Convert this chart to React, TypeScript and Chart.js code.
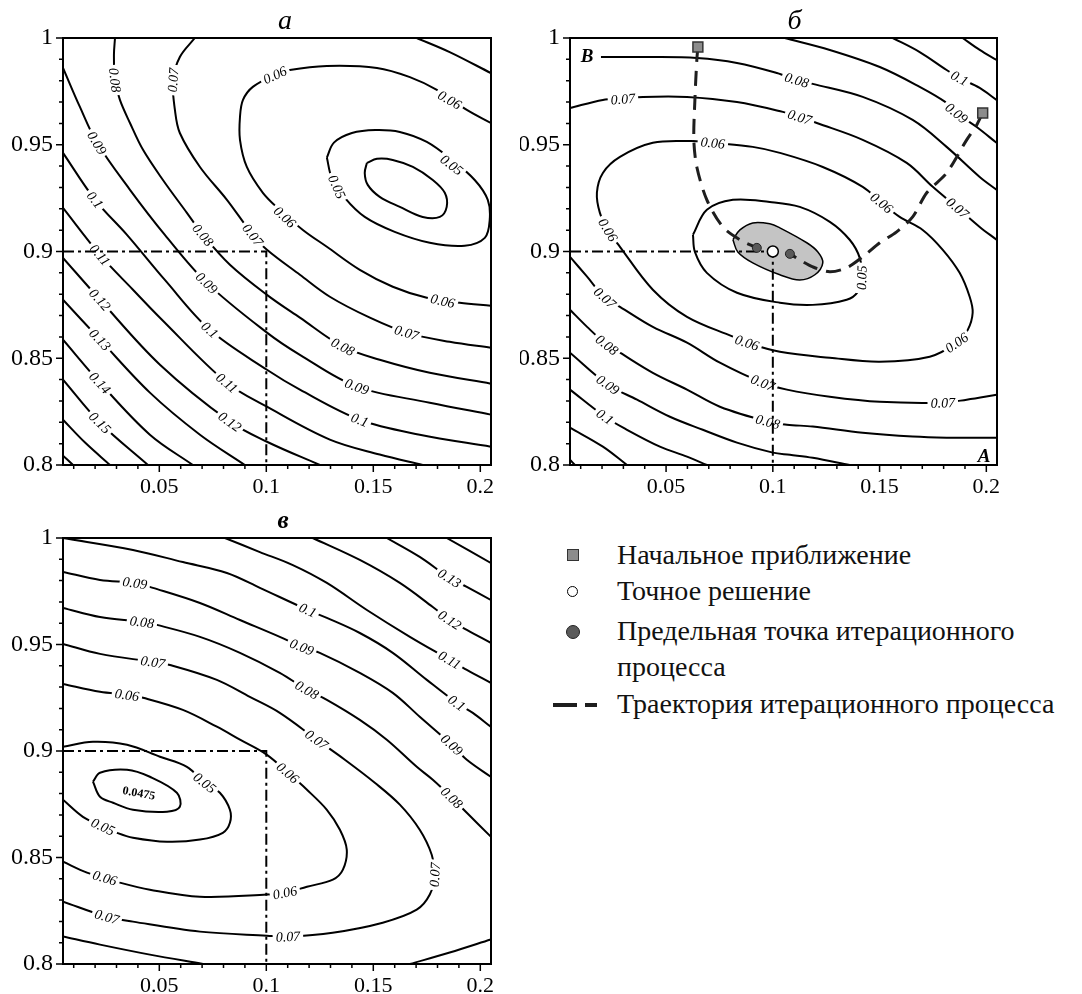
import React, { useEffect, useRef } from "react";
import { Chart, registerables } from "chart.js";

Chart.register(...registerables);

type P = [number, number];
type Lbl = [string, number, number, number?];

const SERIF = '"Liberation Serif", "Times New Roman", serif';

// ---------- axes ----------
const X_RANGE: P = [0.005, 0.205];
const Y_RANGE: P = [0.8, 1];
const xMajor = [0.05, 0.1, 0.15, 0.2];
const xTickLabels = ["0.05", "0.1", "0.15", "0.2"];
const yMajor = [0.8, 0.85, 0.9, 0.95, 1];
const yTickLabels = ["0.8", "0.85", "0.9", "0.95", "1"];
const xMinor = [0.01, 0.02, 0.03, 0.04, 0.06, 0.07, 0.08, 0.09, 0.11, 0.12, 0.13, 0.14, 0.16, 0.17, 0.18, 0.19];
const yMinor = [0.81, 0.82, 0.83, 0.84, 0.86, 0.87, 0.88, 0.89, 0.91, 0.92, 0.93, 0.94, 0.96, 0.97, 0.98, 0.99];
const refLine: P[] = [[0.005, 0.9], [0.1, 0.9], [0.1, 0.8]];

// ---------- panel а ----------
const A_c045: P[] = [[0.147, 0.9415], [0.1517, 0.9434], [0.1591, 0.9429], [0.1685, 0.9396], [0.1778, 0.9335], [0.1834, 0.9275], [0.1843, 0.9209], [0.1811, 0.9162], [0.1731, 0.9162], [0.1624, 0.9209], [0.153, 0.9256], [0.1474, 0.9312], [0.146, 0.9368], [0.147, 0.9415]];
const A_c05: P[] = [[0.1283, 0.944], [0.1316, 0.951], [0.14, 0.9555], [0.151, 0.9569], [0.1624, 0.956], [0.175, 0.9513], [0.1867, 0.9429], [0.1974, 0.9335], [0.2035, 0.9242], [0.2044, 0.9148], [0.2021, 0.9064], [0.1927, 0.9027], [0.1764, 0.9041], [0.16, 0.9092], [0.146, 0.9162], [0.1367, 0.9251], [0.1306, 0.9345], [0.1283, 0.944]];
const A_c06: P[] = [[0.2049, 0.9602], [0.1937, 0.9663], [0.1797, 0.9757], [0.1671, 0.9817], [0.1517, 0.986], [0.1283, 0.9869], [0.111, 0.985], [0.104, 0.9827], [0.0937, 0.9771], [0.0891, 0.971], [0.0877, 0.963], [0.0877, 0.9523], [0.0909, 0.9396], [0.0984, 0.9275], [0.1063, 0.9195], [0.1171, 0.9101], [0.1283, 0.9022], [0.1437, 0.8914], [0.1591, 0.8835], [0.175, 0.8783], [0.1904, 0.876], [0.2049, 0.8746]];
const A_c07a: P[] = [[0.1703, 1], [0.1857, 0.9934], [0.2049, 0.9836]];
const A_c07: P[] = [[0.0666, 1], [0.0596, 0.9911], [0.0564, 0.9803], [0.0573, 0.9663], [0.0596, 0.9555], [0.069, 0.9396], [0.0816, 0.9242], [0.0937, 0.9078], [0.1003, 0.9008], [0.1157, 0.8891], [0.1297, 0.8788], [0.1484, 0.869], [0.1656, 0.862], [0.1857, 0.8577], [0.2049, 0.8549]];
const A_c08: P[] = [[0.0293, 1], [0.0288, 0.992], [0.0293, 0.9803], [0.0316, 0.971], [0.0363, 0.9602], [0.0424, 0.9476], [0.0517, 0.9335], [0.0629, 0.9181], [0.0704, 0.9078], [0.083, 0.8938], [0.1003, 0.8797], [0.1157, 0.869], [0.1358, 0.8554], [0.153, 0.8493], [0.1764, 0.8432], [0.2049, 0.8381]];
const A_c09: P[] = [[0.005, 0.986], [0.0129, 0.9677], [0.0209, 0.9509], [0.0363, 0.9289], [0.0526, 0.9078], [0.0722, 0.8853], [0.1003, 0.862], [0.1157, 0.8516], [0.1423, 0.8367], [0.1764, 0.8292], [0.2049, 0.8236]];
const A_c10: P[] = [[0.005, 0.9462], [0.02, 0.9242], [0.0349, 0.9078], [0.0526, 0.8867], [0.0736, 0.8633], [0.1003, 0.8446], [0.1157, 0.8353], [0.1437, 0.8212], [0.1717, 0.8142], [0.2049, 0.8086]];
const A_c11: P[] = [[0.005, 0.9204], [0.0223, 0.8984], [0.0377, 0.8821], [0.0503, 0.869], [0.0816, 0.8385], [0.1003, 0.8273], [0.1297, 0.8119], [0.153, 0.8049], [0.1731, 0.8]];
const A_c12: P[] = [[0.005, 0.897], [0.0223, 0.8774], [0.0503, 0.847], [0.083, 0.8203], [0.1003, 0.8109], [0.125, 0.8]];
const A_c13: P[] = [[0.005, 0.8774], [0.0223, 0.8587], [0.0456, 0.8339], [0.069, 0.8142], [0.09, 0.8]];
const A_c14: P[] = [[0.005, 0.8587], [0.0223, 0.8385], [0.0456, 0.8142], [0.0657, 0.8]];
const A_c15: P[] = [[0.005, 0.84], [0.0223, 0.8198], [0.0447, 0.8]];
const A_c16: P[] = [[0.005, 0.8212], [0.0153, 0.8105], [0.027, 0.8]];
const A_c17: P[] = [[0.005, 0.8044], [0.0097, 0.8]];
const A_labels: Lbl[] = [
  ["0.08", 0.0293, 0.9803], ["0.07", 0.0564, 0.9803, -1.5], ["0.06", 0.104, 0.9827], ["0.06", 0.1857, 0.971],
  ["0.05", 0.133, 0.9303], ["0.05", 0.1867, 0.9406], ["0.09", 0.0209, 0.9509], ["0.1", 0.02, 0.9242],
  ["0.11", 0.0223, 0.8984], ["0.12", 0.0223, 0.8774], ["0.13", 0.0223, 0.8587], ["0.14", 0.0223, 0.8385],
  ["0.15", 0.0223, 0.8198], ["0.08", 0.0704, 0.9078], ["0.07", 0.0937, 0.9078], ["0.06", 0.1087, 0.9162],
  ["0.09", 0.0722, 0.8853], ["0.1", 0.0736, 0.8633], ["0.11", 0.0816, 0.8385], ["0.12", 0.083, 0.8203],
  ["0.06", 0.1825, 0.8769], ["0.07", 0.1656, 0.862], ["0.08", 0.1358, 0.8554], ["0.09", 0.1423, 0.8367],
  ["0.1", 0.1437, 0.8212],
];

// ---------- panel б ----------
const B_gray: P[] = [[0.0813, 0.9055], [0.0846, 0.9101], [0.0906, 0.9134], [0.0986, 0.913], [0.1033, 0.9111], [0.1159, 0.9041], [0.1211, 0.8998], [0.1234, 0.8947], [0.1197, 0.8891], [0.1126, 0.8867], [0.1033, 0.8891], [0.0906, 0.8947], [0.0836, 0.8998], [0.0813, 0.9055]];
const B_c05: P[] = [[0.0626, 0.9078], [0.0691, 0.9195], [0.0813, 0.9242], [0.0986, 0.9232], [0.1126, 0.9209], [0.1267, 0.9139], [0.136, 0.9055], [0.1407, 0.897], [0.1416, 0.8877], [0.1398, 0.8811], [0.1346, 0.8774], [0.1187, 0.875], [0.1033, 0.876], [0.0832, 0.8807], [0.0691, 0.89], [0.0635, 0.8998], [0.0626, 0.9078]];
const B_c06: P[] = [[0.0626, 0.9518], [0.0719, 0.9509], [0.0906, 0.949], [0.1033, 0.9462], [0.1234, 0.9396], [0.1421, 0.9303], [0.151, 0.9228], [0.1594, 0.9162], [0.1702, 0.9101], [0.1796, 0.9008], [0.1875, 0.89], [0.1922, 0.8788], [0.1936, 0.8713], [0.1913, 0.8633], [0.1861, 0.8573], [0.1735, 0.8507], [0.1501, 0.8484], [0.1267, 0.8502], [0.1033, 0.853], [0.0879, 0.8573], [0.0813, 0.8601], [0.0598, 0.8694], [0.0438, 0.8821], [0.0284, 0.9022], [0.0228, 0.9101], [0.019, 0.9181], [0.0176, 0.9275], [0.0204, 0.9368], [0.0284, 0.9443], [0.0438, 0.9509], [0.0626, 0.9518]];
const B_c07u: P[] = [[0.005, 0.9672], [0.0204, 0.971], [0.0298, 0.9715], [0.0392, 0.9724], [0.0598, 0.9724], [0.0832, 0.97], [0.1047, 0.9654], [0.1126, 0.963], [0.1206, 0.9602], [0.1421, 0.9523], [0.1627, 0.9415], [0.1749, 0.9303], [0.1866, 0.9204], [0.1969, 0.9115], [0.2048, 0.9055]];
const B_c07l: P[] = [[0.005, 0.8975], [0.013, 0.8882], [0.0214, 0.8783], [0.0284, 0.8741], [0.0438, 0.8647], [0.0598, 0.8573], [0.0752, 0.8479], [0.0953, 0.8385], [0.1066, 0.8353], [0.1267, 0.832], [0.1501, 0.8296], [0.1796, 0.8292], [0.1908, 0.8306], [0.2048, 0.8329]];
const B_c08u: P[] = [[0.0195, 0.9911], [0.0424, 0.9911], [0.0644, 0.9906], [0.0832, 0.9883], [0.1019, 0.9836], [0.1112, 0.9803], [0.1187, 0.9785], [0.1421, 0.9724], [0.1655, 0.9616], [0.1814, 0.949], [0.1969, 0.9349], [0.2048, 0.9289]];
const B_c08l: P[] = [[0.005, 0.8727], [0.013, 0.8647], [0.0223, 0.8563], [0.0284, 0.8526], [0.0438, 0.8432], [0.0598, 0.8353], [0.0752, 0.8273], [0.0977, 0.8203], [0.1066, 0.8189], [0.1187, 0.818], [0.1421, 0.8151], [0.1655, 0.8133], [0.1814, 0.8128], [0.2048, 0.8128]];
const B_c09u: P[] = [[0.1056, 1], [0.1267, 0.9944], [0.1501, 0.9864], [0.1688, 0.9771], [0.1814, 0.9696], [0.1861, 0.9649], [0.1955, 0.9583], [0.2048, 0.9509]];
const B_c09l: P[] = [[0.005, 0.8526], [0.0228, 0.8376], [0.0364, 0.8306], [0.0518, 0.8226], [0.0672, 0.8165], [0.0832, 0.8105], [0.1, 0.8058], [0.108, 0.8048], [0.1187, 0.8034], [0.136, 0.8]];
const B_c10u: P[] = [[0.1562, 1], [0.1688, 0.9934], [0.1814, 0.985], [0.1875, 0.9813], [0.1969, 0.9766], [0.2048, 0.971]];
const B_c10l: P[] = [[0.005, 0.8353], [0.0214, 0.8226], [0.0317, 0.8165], [0.0471, 0.8086], [0.0598, 0.8039], [0.0691, 0.8]];
const B_c11u: P[] = [[0.1889, 1], [0.1969, 0.9944], [0.2048, 0.9897]];
const B_c11l: P[] = [[0.005, 0.8175], [0.0204, 0.8086], [0.0317, 0.8]];
const B_c12l: P[] = [[0.005, 0.8025], [0.0073, 0.8]];
const B_labels: Lbl[] = [
  ["0.08", 0.1112, 0.9803], ["0.07", 0.0298, 0.9715], ["0.07", 0.1126, 0.963], ["0.06", 0.0719, 0.9509],
  ["0.06", 0.0228, 0.9101], ["0.1", 0.1875, 0.9813], ["0.09", 0.1861, 0.9649], ["0.07", 0.1866, 0.9204],
  ["0.06", 0.151, 0.9228], ["0.05", 0.1416, 0.8877, -1.55], ["0.06", 0.1861, 0.8573], ["0.07", 0.1796, 0.8292],
  ["0.07", 0.0214, 0.8783], ["0.06", 0.0879, 0.8573], ["0.07", 0.0953, 0.8385], ["0.08", 0.0223, 0.8563],
  ["0.08", 0.0977, 0.8203], ["0.09", 0.0228, 0.8376], ["0.1", 0.0214, 0.8226],
];
const B_trajLeft: P[] = [[0.0649, 0.9958], [0.0644, 0.9897], [0.0635, 0.971], [0.063, 0.9523], [0.0644, 0.9396], [0.0691, 0.9242], [0.0766, 0.9115], [0.0846, 0.9055], [0.0925, 0.9017]];
const B_trajRight: P[] = [[0.1983, 0.9649], [0.1955, 0.9593], [0.1908, 0.9523], [0.1814, 0.9368], [0.1721, 0.9275], [0.1655, 0.9162], [0.158, 0.9092], [0.1501, 0.9041], [0.1421, 0.8975], [0.1346, 0.8924], [0.1267, 0.8905], [0.1187, 0.8928], [0.1126, 0.8961], [0.108, 0.8989]];
const B_start: P[] = [[0.0649, 0.9958], [0.1983, 0.9649]];
const B_exact: P[] = [[0.1, 0.9]];
const B_limit: P[] = [[0.0925, 0.9017], [0.108, 0.8989]];

// ---------- panel в ----------
const C_c0475: P[] = [[0.019, 0.8856], [0.0223, 0.8898], [0.0349, 0.8912], [0.0456, 0.8879], [0.0582, 0.8804], [0.0596, 0.8738], [0.0536, 0.8715], [0.0377, 0.8724], [0.0284, 0.8757], [0.0223, 0.8785], [0.019, 0.8856]];
const C_c05: P[] = [[0.005, 0.902], [0.019, 0.9043], [0.0349, 0.9029], [0.0503, 0.8973], [0.0629, 0.8926], [0.0713, 0.8851], [0.0783, 0.8804], [0.083, 0.8724], [0.083, 0.8663], [0.0797, 0.8616], [0.069, 0.8584], [0.0536, 0.8574], [0.0377, 0.8593], [0.0302, 0.8616], [0.0237, 0.8645], [0.0143, 0.8691], [0.005, 0.8771]];
const C_c06: P[] = [[0.005, 0.9315], [0.0223, 0.9278], [0.0349, 0.9264], [0.0424, 0.925], [0.061, 0.9193], [0.0769, 0.9114], [0.0877, 0.9053], [0.1003, 0.8982], [0.1101, 0.8898], [0.119, 0.8818], [0.1283, 0.8724], [0.1344, 0.863], [0.1376, 0.8537], [0.1358, 0.8443], [0.1311, 0.8396], [0.119, 0.8363], [0.1087, 0.8335], [0.1003, 0.8326], [0.069, 0.8316], [0.0456, 0.8349], [0.0316, 0.8382], [0.0246, 0.8405], [0.0162, 0.8429], [0.005, 0.848]];
const C_c07: P[] = [[0.005, 0.9503], [0.0223, 0.9456], [0.047, 0.9418], [0.055, 0.9404], [0.0769, 0.9334], [0.0923, 0.9254], [0.1063, 0.9179], [0.1236, 0.9053], [0.1367, 0.8959], [0.1507, 0.8851], [0.1624, 0.8748], [0.1717, 0.863], [0.1773, 0.8513], [0.1787, 0.8419], [0.1764, 0.8326], [0.1703, 0.8255], [0.1544, 0.8194], [0.131, 0.8147], [0.1101, 0.8129], [0.1003, 0.8133], [0.069, 0.8152], [0.0377, 0.8199], [0.0255, 0.8222], [0.005, 0.8293]];
const C_c08: P[] = [[0.005, 0.9672], [0.0223, 0.9629], [0.0419, 0.9606], [0.0489, 0.9592], [0.069, 0.9536], [0.0877, 0.9461], [0.1063, 0.9367], [0.119, 0.9287], [0.1283, 0.924], [0.1437, 0.9146], [0.1563, 0.9053], [0.1703, 0.8926], [0.1778, 0.8865], [0.1867, 0.8781], [0.1937, 0.871], [0.2049, 0.8598]];
const C_c08b: P[] = [[0.005, 0.8129], [0.0223, 0.8091], [0.0456, 0.8044], [0.0704, 0.8]];
const C_c08c: P[] = [[0.1671, 0.8], [0.1857, 0.8054], [0.2049, 0.8115]];
const C_c09: P[] = [[0.005, 0.9841], [0.0223, 0.9803], [0.0386, 0.9789], [0.047, 0.9766], [0.069, 0.9695], [0.0877, 0.9615], [0.1063, 0.9536], [0.1166, 0.9489], [0.125, 0.9461], [0.1437, 0.9367], [0.1591, 0.9273], [0.1717, 0.9161], [0.1867, 0.9029], [0.1937, 0.8959], [0.2049, 0.8879]];
const C_c10: P[] = [[0.005, 1], [0.0377, 0.9944], [0.061, 0.9887], [0.0816, 0.9836], [0.097, 0.9766], [0.1194, 0.9662], [0.1283, 0.9625], [0.1437, 0.9554], [0.1591, 0.9461], [0.175, 0.9334], [0.189, 0.9226], [0.1965, 0.9179], [0.2049, 0.9114]];
const C_c11: P[] = [[0.0807, 1], [0.097, 0.9934], [0.1124, 0.9873], [0.1283, 0.9789], [0.147, 0.9662], [0.1671, 0.9536], [0.1857, 0.9428], [0.1937, 0.9381], [0.2049, 0.932]];
const C_c12: P[] = [[0.1217, 1], [0.1437, 0.9897], [0.1624, 0.9789], [0.1778, 0.9676], [0.1857, 0.9615], [0.1937, 0.9569], [0.2049, 0.9508]];
const C_c13: P[] = [[0.1563, 1], [0.1717, 0.9911], [0.1857, 0.9812], [0.1937, 0.977], [0.2049, 0.9709]];
const C_c14: P[] = [[0.1843, 1], [0.2049, 0.9883]];
const C_labels: Lbl[] = [
  ["0.09", 0.0386, 0.9789], ["0.08", 0.0419, 0.9606], ["0.07", 0.047, 0.9418], ["0.06", 0.0349, 0.9264],
  ["0.1", 0.1194, 0.9662], ["0.09", 0.1166, 0.9489], ["0.08", 0.119, 0.9287], ["0.07", 0.1236, 0.9053],
  ["0.13", 0.1857, 0.9812], ["0.12", 0.1857, 0.9615], ["0.11", 0.1857, 0.9428], ["0.1", 0.189, 0.9226],
  ["0.09", 0.1867, 0.9029], ["0.08", 0.1867, 0.8781], ["0.07", 0.1787, 0.8419], ["0.06", 0.1101, 0.8898],
  ["0.06", 0.1087, 0.8335], ["0.06", 0.0246, 0.8405], ["0.05", 0.0713, 0.8851], ["0.05", 0.0237, 0.8645],
  ["0.07", 0.0255, 0.8222], ["0.07", 0.1101, 0.8129], ["0.0475", 0.0405, 0.8804, 0.18],
];
const SPECIAL_LABEL = "0.0475";

// ---------- legend ----------
const legendItems = ["Начальное приближение", "Точное решение", "Предельная точка итерационного", "процесса", "Траектория итерационного процесса"];

interface PanelSpec {
  title: string;
  titleFont: string;
  titleDx: number;
  titleDy: number;
  contours: P[][];
  filled?: P[][];
  labels: Lbl[];
  trajectories?: P[][];
  starts?: P[];
  exact?: P[];
  limits?: P[];
  corners?: [string, "tl" | "br"][];
  padTop: number;
  padRight: number;
  axisW: number;
  axisH: number;
}

const xy = (pts: P[]) => pts.map(([x, y]) => ({ x, y }));

function drawLabels(chart: any, s: PanelSpec, contourIdx: number[]) {
  const ctx: CanvasRenderingContext2D = chart.ctx;
  const xs = chart.scales.x;
  const ys = chart.scales.y;
  const metas = contourIdx.map((i) => chart.getDatasetMeta(i).data as any[]);
  ctx.save();
  for (const [t, lx, ly, fixed] of s.labels) {
    const px = xs.getPixelForValue(lx);
    const py = ys.getPixelForValue(ly);
    let a = 0;
    if (fixed !== undefined) {
      a = fixed;
    } else {
      let best = Infinity;
      let bm: any[] = [];
      let bj = 0;
      for (const d of metas) {
        for (let j = 0; j < d.length; j++) {
          const dx = d[j].x - px;
          const dy = d[j].y - py;
          const q = dx * dx + dy * dy;
          if (q < best) { best = q; bm = d; bj = j; }
        }
      }
      const p0 = bm[Math.max(bj - 1, 0)];
      const p1 = bm[Math.min(bj + 1, bm.length - 1)];
      a = Math.atan2(p1.y - p0.y, p1.x - p0.x);
      if (a > Math.PI / 2) a -= Math.PI;
      if (a <= -Math.PI / 2) a += Math.PI;
    }
    ctx.save();
    ctx.translate(px, py);
    ctx.rotate(a);
    const special = t === SPECIAL_LABEL;
    ctx.font = special ? `bold 12px ${SERIF}` : `italic 14px ${SERIF}`;
    const w = ctx.measureText(t).width;
    if (!special) {
      ctx.fillStyle = "#fff";
      ctx.fillRect(-w / 2 - 3, -6, w + 6, 12);
    }
    ctx.fillStyle = "#000";
    ctx.textAlign = "center";
    ctx.textBaseline = "middle";
    ctx.fillText(t, 0, 1);
    ctx.restore();
  }
  const ca = chart.chartArea;
  for (const [t, pos] of s.corners ?? []) {
    ctx.font = `bold italic 19px ${SERIF}`;
    ctx.textAlign = "center";
    ctx.textBaseline = "alphabetic";
    const cx = pos === "tl" ? ca.left + 17 : ca.right - 13;
    const cy = pos === "tl" ? ca.top + 24 : ca.bottom - 3;
    const w = ctx.measureText(t).width;
    ctx.fillStyle = "#fff";
    ctx.fillRect(cx - w / 2 - 3, cy - 15, w + 6, 17);
    ctx.fillStyle = "#000";
    ctx.fillText(t, cx, cy);
  }
  ctx.restore();
}

function drawFrame(chart: any, s: PanelSpec) {
  const ctx: CanvasRenderingContext2D = chart.ctx;
  const { left, right, top, bottom } = chart.chartArea;
  const xs = chart.scales.x;
  const ys = chart.scales.y;
  ctx.save();
  ctx.strokeStyle = "#000";
  ctx.lineWidth = 2;
  ctx.strokeRect(left, top, right - left, bottom - top);
  ctx.lineWidth = 1.5;
  ctx.beginPath();
  for (const v of xMajor) { const p = xs.getPixelForValue(v); ctx.moveTo(p, bottom); ctx.lineTo(p, bottom + 7); }
  for (const v of xMinor) { const p = xs.getPixelForValue(v); ctx.moveTo(p, bottom); ctx.lineTo(p, bottom + 4); }
  for (const v of yMajor) { const p = ys.getPixelForValue(v); ctx.moveTo(left, p); ctx.lineTo(left - 7, p); }
  for (const v of yMinor) { const p = ys.getPixelForValue(v); ctx.moveTo(left, p); ctx.lineTo(left - 4, p); }
  ctx.stroke();
  ctx.fillStyle = "#000";
  ctx.font = s.titleFont;
  ctx.textAlign = "center";
  ctx.textBaseline = "alphabetic";
  ctx.fillText(s.title, (left + right) / 2 + s.titleDx, top - s.titleDy);
  ctx.restore();
}

function buildChart(canvas: HTMLCanvasElement, s: PanelSpec) {
  const datasets: any[] = [];
  const contourIdx: number[] = [];
  const line = (pts: P[], extra: any) => ({
    data: xy(pts), showLine: true, pointRadius: 0, pointHoverRadius: 0, borderColor: "#000",
    borderWidth: 2, tension: 0.35, fill: false, ...extra,
  });
  (s.filled ?? []).forEach((p) => {
    contourIdx.push(datasets.length);
    datasets.push(line(p, { backgroundColor: "#c4c4c4", fill: "shape", borderWidth: 1.5, order: 20 }));
  });
  s.contours.forEach((p) => {
    contourIdx.push(datasets.length);
    datasets.push(line(p, { order: 10 }));
  });
  datasets.push(line(refLine, { borderDash: [11, 4, 3, 4], tension: 0, order: 5 }));
  (s.trajectories ?? []).forEach((p) =>
    datasets.push(line(p, { borderDash: [15, 9], borderWidth: 3, borderColor: "#1e1e1e", tension: 0.3, order: 2 }))
  );
  if (s.starts) datasets.push({ data: xy(s.starts), showLine: false, pointStyle: "rect", pointRadius: 7, backgroundColor: "#8c8c8c", borderColor: "#333", borderWidth: 1.5, order: 1 });
  if (s.limits) datasets.push({ data: xy(s.limits), showLine: false, pointStyle: "circle", pointRadius: 4.5, backgroundColor: "#5a5a5a", borderColor: "#222", borderWidth: 1, order: 1 });
  if (s.exact) datasets.push({ data: xy(s.exact), showLine: false, pointStyle: "circle", pointRadius: 5.5, backgroundColor: "#fff", borderColor: "#000", borderWidth: 1.5, order: 0 });

  const plugin = {
    id: "contourDeco",
    beforeDatasetsDraw(chart: any) { chart.$lblDone = false; },
    beforeDatasetDraw(chart: any, args: any) {
      const ds = chart.data.datasets[args.index];
      if (!chart.$lblDone && ds.order < 10) { drawLabels(chart, s, contourIdx); chart.$lblDone = true; }
    },
    afterDatasetsDraw(chart: any) { if (!chart.$lblDone) { drawLabels(chart, s, contourIdx); chart.$lblDone = true; } },
    afterDraw(chart: any) { drawFrame(chart, s); },
  };

  return new Chart(canvas, {
    type: "scatter",
    data: { datasets },
    options: {
      responsive: false,
      animation: false,
      devicePixelRatio: 1,
      events: [],
      layout: { padding: { left: 0, top: s.padTop, right: s.padRight, bottom: 0 } },
      plugins: { legend: { display: false }, tooltip: { enabled: false } },
      scales: {
        x: {
          type: "linear", min: X_RANGE[0], max: X_RANGE[1],
          afterBuildTicks: (sc: any) => { sc.ticks = xMajor.map((v) => ({ value: v })); },
          afterFit: (sc: any) => { sc.height = s.axisH; },
          ticks: { callback: (_v: any, i: number) => xTickLabels[i], font: { family: SERIF, size: 22 }, color: "#000", padding: 9, maxRotation: 0, autoSkip: false },
          grid: { display: false, drawTicks: false },
          border: { display: false },
        },
        y: {
          type: "linear", min: Y_RANGE[0], max: Y_RANGE[1],
          afterBuildTicks: (sc: any) => { sc.ticks = yMajor.map((v) => ({ value: v })); },
          afterFit: (sc: any) => { sc.width = s.axisW; },
          ticks: { callback: (_v: any, i: number) => yTickLabels[i], font: { family: SERIF, size: 24 }, color: "#000", padding: 10, autoSkip: false },
          grid: { display: false, drawTicks: false },
          border: { display: false },
        },
      },
    } as any,
    plugins: [plugin],
  });
}

const panelA: PanelSpec = {
  title: "а", titleFont: `italic 28px ${SERIF}`, titleDx: 8, titleDy: 9,
  contours: [A_c045, A_c05, A_c06, A_c07a, A_c07, A_c08, A_c09, A_c10, A_c11, A_c12, A_c13, A_c14, A_c15, A_c16, A_c17],
  labels: A_labels, padTop: 38, padRight: 29, axisW: 63, axisH: 45,
};
const panelB: PanelSpec = {
  title: "б", titleFont: `italic 28px ${SERIF}`, titleDx: 11, titleDy: 9,
  contours: [B_c05, B_c06, B_c07u, B_c07l, B_c08u, B_c08l, B_c09u, B_c09l, B_c10u, B_c10l, B_c11u, B_c11l, B_c12l],
  filled: [B_gray], labels: B_labels, trajectories: [B_trajLeft, B_trajRight],
  starts: B_start, exact: B_exact, limits: B_limit, corners: [["В", "tl"], ["А", "br"]],
  padTop: 38, padRight: 85, axisW: 50, axisH: 45,
};
const panelC: PanelSpec = {
  title: "в", titleFont: `bold italic 25px ${SERIF}`, titleDx: 6, titleDy: 10,
  contours: [C_c0475, C_c05, C_c06, C_c07, C_c08, C_c08b, C_c08c, C_c09, C_c10, C_c11, C_c12, C_c13, C_c14],
  labels: C_labels, padTop: 44, padRight: 29, axisW: 63, axisH: 30,
};

function Panel({ spec, left, top, width, height }: { spec: PanelSpec; left: number; top: number; width: number; height: number }) {
  const ref = useRef<HTMLCanvasElement>(null);
  useEffect(() => {
    const chart = buildChart(ref.current as HTMLCanvasElement, spec);
    return () => chart.destroy();
  }, []);
  return <canvas ref={ref} width={width} height={height} style={{ position: "absolute", left, top, width, height }} />;
}

function Legend() {
  const textLeft = 617;
  const baselines = [564, 600, 640, 676, 713];
  const fs = 28;
  return (
    <>
      <div style={{ position: "absolute", left: 567, top: 549, width: 10, height: 10, background: "#8c8c8c", border: "1.5px solid #333" }} />
      <div style={{ position: "absolute", left: 567, top: 586, width: 9, height: 9, borderRadius: "50%", background: "#fff", border: "1.6px solid #000" }} />
      <div style={{ position: "absolute", left: 566, top: 625, width: 12, height: 12, borderRadius: "50%", background: "#5a5a5a", border: "1px solid #222" }} />
      <div style={{ position: "absolute", left: 553, top: 703, width: 24, height: 3.5, background: "#1e1e1e" }} />
      <div style={{ position: "absolute", left: 585, top: 703, width: 12, height: 3.5, background: "#1e1e1e" }} />
      {legendItems.map((t, i) => (
        <div key={i} style={{ position: "absolute", left: textLeft, top: baselines[i] - 23.5, fontFamily: SERIF, fontSize: fs, lineHeight: `${fs}px`, whiteSpace: "nowrap", color: "#111" }}>
          {t}
        </div>
      ))}
    </>
  );
}

export default function App() {
  return (
    <div style={{ position: "absolute", left: 0, top: 0, width: 1082, height: 994, background: "#fff", overflow: "hidden" }}>
      <Panel spec={panelA} left={0} top={0} width={520} height={510} />
      <Panel spec={panelB} left={520} top={0} width={562} height={510} />
      <Panel spec={panelC} left={0} top={494} width={520} height={500} />
      <Legend />
    </div>
  );
}
